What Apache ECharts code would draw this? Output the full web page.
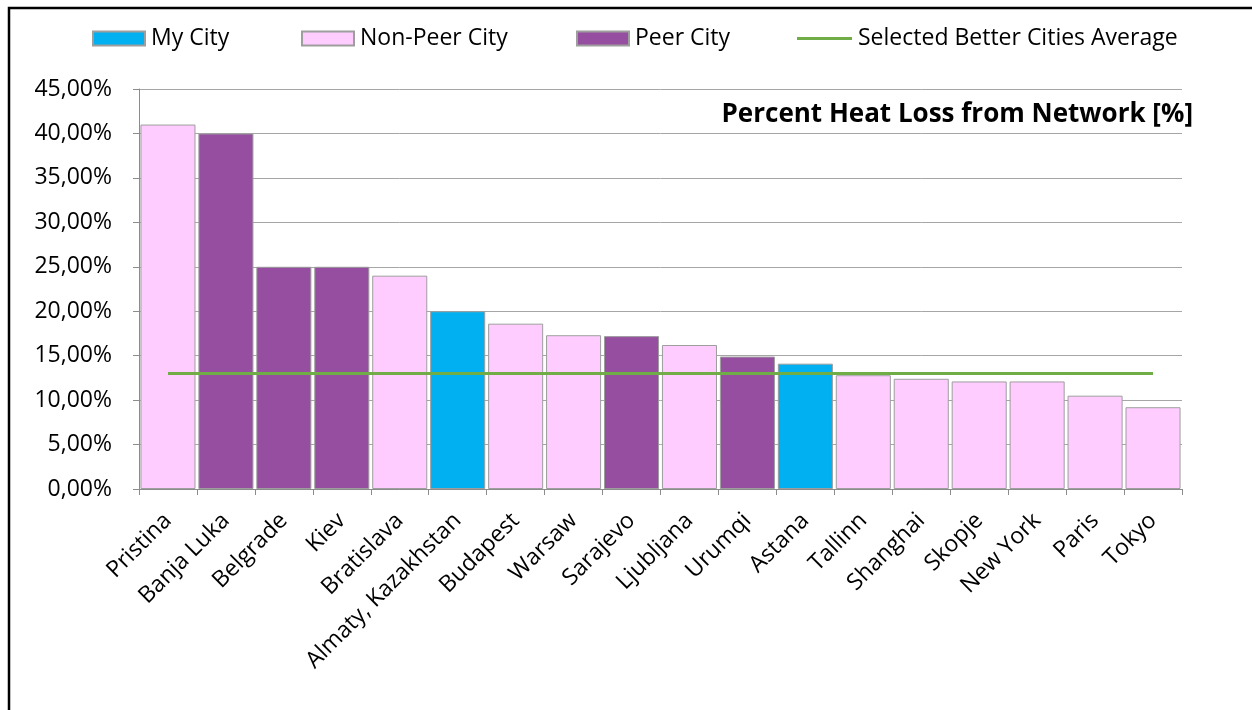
<!DOCTYPE html>
<html>
<head>
<meta charset="utf-8">
<script src="https://cdn.jsdelivr.net/npm/echarts@6/dist/echarts.min.js"></script>
<style>
  html, body { margin: 0; padding: 0; background: #fff; }
  #main { width: 1252px; height: 710px; }
</style>
</head>
<body>
<div id="main"></div>
<script>
var cities = ["Pristina", "Banja Luka", "Belgrade", "Kiev", "Bratislava", "Almaty, Kazakhstan",
  "Budapest", "Warsaw", "Sarajevo", "Ljubljana", "Urumqi", "Astana", "Tallinn",
  "Shanghai", "Skopje", "New York", "Paris", "Tokyo"];
var heatLoss = [41.0, 40.0, 25.0, 25.0, 24.0, 20.0, 18.6, 17.3, 17.2, 16.2, 14.9, 14.1,
  12.8, 12.4, 12.1, 12.1, 10.5, 9.2];
var cityType = ["non", "peer", "peer", "peer", "non", "my", "non", "non", "peer", "non",
  "peer", "my", "non", "non", "non", "non", "non", "non"];
var betterAverage = 13.0;

var chartDom = document.getElementById("main");
var myChart = echarts.init(chartDom);
var option;

function pick(type) {
  return heatLoss.map(function (v, i) {
    return cityType[i] === type ? v : null;
  });
}
var avgLine = cities.map(function () { return betterAverage; });

var font = "Open Sans";
var barBorder = { borderColor: "#9e9e9e", borderWidth: 1 };

// one legend per item so each sits where Excel put it
function legendAt(name, left, opts) {
  return Object.assign({
    top: 27,
    left: left,
    padding: 0,
    itemWidth: 52,
    itemHeight: 14,
    selectedMode: false,
    textStyle: { fontSize: 23, color: "#000", fontFamily: font, padding: [0, 0, 0, 1] },
    data: [{ name: name, icon: "rect" }]
  }, opts || {});
}

option = {
  animation: false,
  textStyle: { fontFamily: font },
  graphic: [
    {
      type: "rect",
      shape: { x: 9, y: 8, width: 1400, height: 900 },
      style: { fill: "none", stroke: "#000", lineWidth: 2.5 }
    },
    {
      type: "text",
      right: 59,
      top: 102,
      style: {
        text: "Percent Heat Loss from Network [%]",
        font: "bold 26px 'Open Sans'",
        fill: "#000"
      }
    }
  ],
  legend: [
    legendAt("My City", 92),
    legendAt("Non-Peer City", 301),
    legendAt("Peer City", 576),
    legendAt("Selected Better Cities Average", 797, { itemWidth: 55, itemHeight: 3 })
  ],
  grid: { left: 139, right: 70, top: 89, bottom: 221 },
  xAxis: {
    type: "category",
    data: cities,
    axisLine: { lineStyle: { color: "#8c8c8c" } },
    axisTick: { show: true, length: 6, lineStyle: { color: "#8c8c8c" } },
    axisLabel: { rotate: 45, fontSize: 23, color: "#000", margin: 28, interval: 0 }
  },
  yAxis: {
    type: "value",
    min: 0,
    max: 45,
    interval: 5,
    axisLine: { show: true, lineStyle: { color: "#8c8c8c" } },
    axisTick: { show: true, length: 6, lineStyle: { color: "#8c8c8c" } },
    splitLine: { lineStyle: { color: "#a6a6a6" } },
    axisLabel: {
      fontSize: 23,
      color: "#000",
      margin: 27,
      formatter: function (v) { return v.toFixed(2).replace(".", ",") + "%"; }
    }
  },
  series: [
    {
      name: "My City", type: "bar", stack: "c", barCategoryGap: "5%",
      itemStyle: Object.assign({ color: "#00b0f0" }, barBorder),
      data: pick("my")
    },
    {
      name: "Non-Peer City", type: "bar", stack: "c",
      itemStyle: Object.assign({ color: "#ffccff" }, barBorder),
      data: pick("non")
    },
    {
      name: "Peer City", type: "bar", stack: "c",
      itemStyle: Object.assign({ color: "#964fa0" }, barBorder),
      data: pick("peer")
    },
    {
      name: "Selected Better Cities Average", type: "line",
      symbol: "none",
      lineStyle: { color: "#70ad47", width: 3 },
      itemStyle: { color: "#70ad47" },
      data: avgLine
    }
  ]
};

option && myChart.setOption(option);
</script>
</body>
</html>
